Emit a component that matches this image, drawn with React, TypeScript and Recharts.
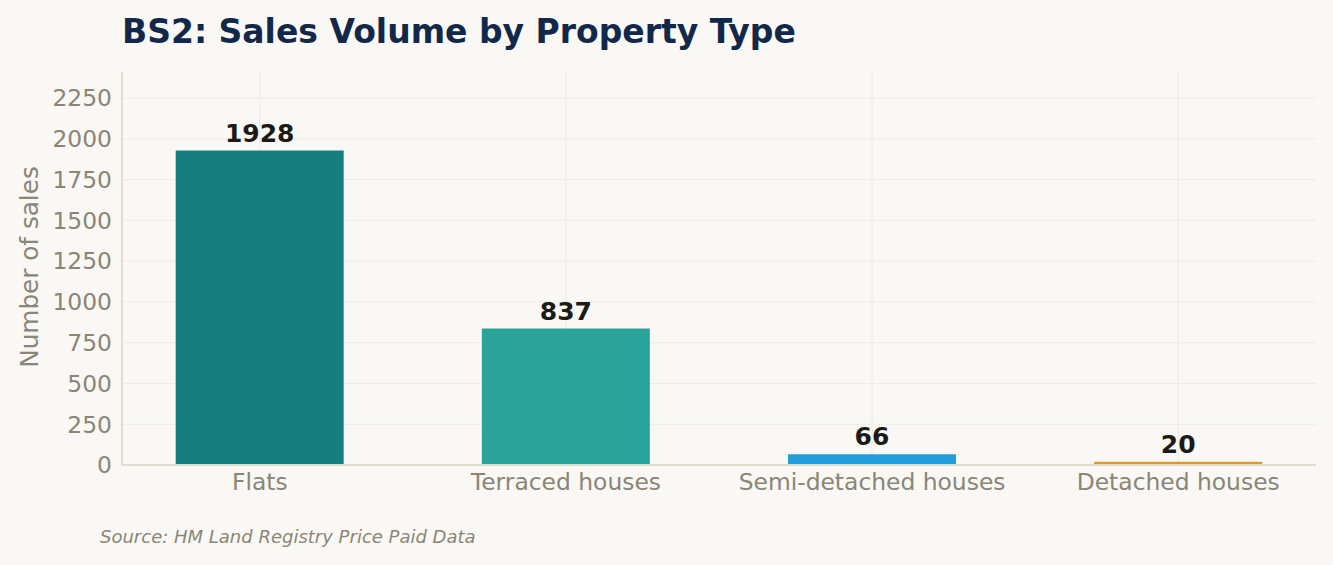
import React from 'react';
import { BarChart, Bar, XAxis, YAxis, CartesianGrid, Cell, LabelList } from 'recharts';

// categories and values
const categories = ['Flats', 'Terraced houses', 'Semi-detached houses', 'Detached houses'];
const sales = [1928, 837, 66, 20];
const barColors = ['#167f7e', '#2aa39a', '#229fda', '#d99a35'];
const yTicks = [0, 250, 500, 750, 1000, 1250, 1500, 1750, 2000, 2250];
const xTicks = [0, 1, 2, 3];

const data = categories.map((name, i) => ({ idx: i, name, sales: sales[i] }));

const font = '"DejaVu Sans", sans-serif';
const muted = '#8a8576';

export default function App() {
    return (
        <div style={{ position: 'relative', width: 1333, height: 565, background: '#f9f8f4', fontFamily: font, overflow: 'hidden' }}>
            <style>{'body{margin:0}'}</style>

            {/* Title */}
            <div style={{ position: 'absolute', left: 122, top: 15, fontSize: 33, lineHeight: 1, fontWeight: 700, color: '#12284a', whiteSpace: 'nowrap' }}>
                BS2: Sales Volume by Property Type
            </div>

            <BarChart width={1333} height={565} data={data} margin={{ top: 72, right: 17, bottom: 0, left: 0 }}>
                <CartesianGrid stroke="#eeebe3" strokeWidth={1} horizontalValues={yTicks} verticalValues={xTicks} />
                <XAxis
                    dataKey="idx"
                    type="number"
                    domain={[-0.45, 3.45]}
                    ticks={xTicks}
                    interval={0}
                    tickFormatter={(v: number) => categories[v]}
                    tick={{ fill: muted, fontSize: 23.4, fontFamily: font }}
                    tickSize={0}
                    tickMargin={8}
                    stroke="#e2dccb"
                    strokeWidth={2}
                    height={100}
                    allowDataOverflow
                />
                <YAxis
                    type="number"
                    domain={[0, 2410]}
                    ticks={yTicks}
                    interval={0}
                    tick={{ fill: muted, fontSize: 23.4, fontFamily: font }}
                    tickSize={0}
                    tickMargin={10}
                    stroke="#e2dccb"
                    strokeWidth={2}
                    width={122}
                    allowDataOverflow
                />
                <Bar dataKey="sales" barSize={168} isAnimationActive={false}>
                    {data.map((d, i) => (
                        <Cell key={d.name} fill={barColors[i]} />
                    ))}
                    <LabelList dataKey="sales" position="top" offset={9} fill="#1c1a17" fontSize={25} fontWeight={700} fontFamily={font} />
                </Bar>
            </BarChart>

            {/* Y axis label */}
            <div style={{ position: 'absolute', left: 30, top: 267, transform: 'translate(-50%, -50%) rotate(-90deg)', fontSize: 24.7, lineHeight: 1, color: muted, whiteSpace: 'nowrap' }}>
                Number of sales
            </div>

            {/* Source note */}
            <div style={{ position: 'absolute', left: 100, top: 528, fontSize: 18, lineHeight: 1, fontStyle: 'italic', color: muted, whiteSpace: 'nowrap' }}>
                Source: HM Land Registry Price Paid Data
            </div>
        </div>
    );
}
